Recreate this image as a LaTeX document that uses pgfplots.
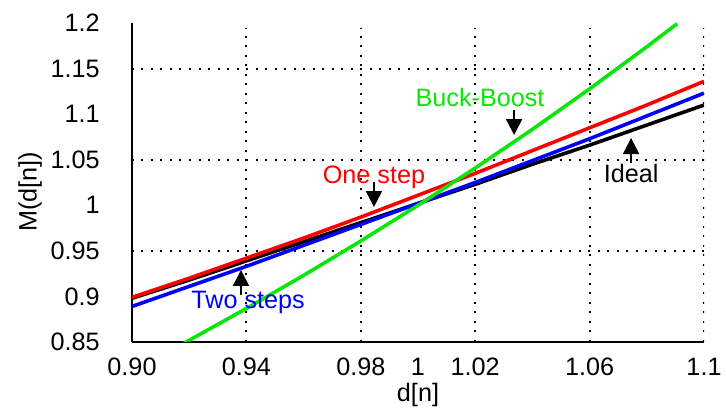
\documentclass[border=0pt]{standalone}
\usepackage{pgfplots}
\pgfplotsset{compat=1.18}
\usepackage{fontspec}
\setmainfont{Liberation Sans}
\usetikzlibrary{arrows.meta}
\definecolor{bbgreen}{RGB}{10,230,10}
\newcommand{\bigf}{\fontsize{12.6}{15}\selectfont}
\begin{document}
\begin{tikzpicture}[font=\bigf]
\begin{axis}[scale only axis, width=286pt, height=159.5pt,
  xmin=0.9, xmax=1.1, ymin=0.85, ymax=1.2,
  axis x line*=bottom, axis y line*=left,
  axis line style={line width=0.6pt, -},
  xtick={0.90,0.92,0.94,0.96,0.98,1.00,1.02,1.04,1.06,1.08,1.10},
  xticklabels={{\bigf 0.90},,{\bigf 0.94},,{\bigf 0.98},{\bigf 1},{\bigf 1.02},,{\bigf 1.06},,{\bigf 1.1}},
  ytick={0.85,0.9,0.95,1,1.05,1.1,1.15,1.2},
  yticklabels={{\bigf 0.85},{\bigf 0.9},{\bigf 0.95},{\bigf 1},{\bigf 1.05},{\bigf 1.1},{\bigf 1.15},{\bigf 1.2}},
  major tick length=0pt,
  tick style={draw=none},
  /pgf/number format/assume math mode=true,
  yticklabel style={anchor=east, inner sep=0pt, xshift=-16pt},
  xticklabel style={anchor=north, inner sep=0pt, yshift=-8pt},
  xlabel={\bigf d[n]}, ylabel={\bigf M(d[n])},
  xlabel style={at={(axis description cs:0.5,-0.166)},anchor=center},
  ylabel style={at={(axis description cs:-0.178,0.47)},anchor=center},
  clip=true,
]
% grid
\foreach \xv in {0.94,0.98,1.02,1.06,1.1}{
  \edef\temp{\noexpand\draw[black, line width=1pt, dash pattern=on 1pt off 3.75pt] (axis cs:\xv,0.85) -- (axis cs:\xv,1.1945);}
  \temp
}
\foreach \yv in {0.95,1.05,1.15}{
  \edef\temp{\noexpand\draw[black, line width=1pt, dash pattern=on 1pt off 3.75pt] (axis cs:0.9,\yv) -- (axis cs:1.1,\yv);}
  \temp
}
% Ideal
\addplot[black, line width=1.8pt] coordinates {
 (0.90,0.898) (0.92,0.918) (0.94,0.939) (0.96,0.960) (0.98,0.981) (1.00,1.002)
 (1.02,1.023) (1.04,1.045) (1.06,1.066) (1.08,1.088) (1.10,1.110)};
% Two steps
\addplot[blue, line width=1.8pt] coordinates {
 (0.90,0.889) (0.92,0.911) (0.94,0.933) (0.96,0.956) (0.98,0.979) (1.00,1.002)
 (1.02,1.025) (1.04,1.049) (1.06,1.073) (1.08,1.098) (1.10,1.123)};
% One step
\addplot[red, line width=1.8pt] coordinates {
 (0.90,0.899) (0.92,0.920) (0.94,0.942) (0.96,0.964) (0.98,0.987) (1.00,1.011)
 (1.02,1.035) (1.04,1.060) (1.06,1.085) (1.08,1.110) (1.10,1.136)};
% Buck-Boost
\addplot[bbgreen, line width=1.8pt] coordinates {
 (0.918,0.8484) (0.92,0.8519) (0.94,0.8868) (0.96,0.9231) (0.98,0.9608) (1.00,1.0000)
 (1.02,1.0408) (1.04,1.0833) (1.06,1.1277) (1.08,1.1739) (1.0906,1.1992)};
% annotations
\node[bbgreen, font=\bigf] at (axis cs:1.0217,1.1183) {Buck-Boost};
\draw[black, line width=1pt, -{Triangle[length=8pt,width=8pt]}] (axis cs:1.0336,1.1045) -- (axis cs:1.0336,1.0771);
\node[black, font=\bigf] at (axis cs:1.0745,1.0354) {Ideal};
\draw[black, line width=1pt, -{Triangle[length=8pt,width=8pt]}] (axis cs:1.0745,1.0464) -- (axis cs:1.0745,1.0738);
\node[red, font=\bigf] at (axis cs:0.9846,1.031) {One step};
\draw[black, line width=1pt, -{Triangle[length=8pt,width=8pt]}] (axis cs:0.9846,1.0255) -- (axis cs:0.9846,0.9981);
\node[blue, font=\bigf] at (axis cs:0.9406,0.8939) {Two steps};
\draw[black, line width=1pt, -{Triangle[length=8pt,width=8pt]}] (axis cs:0.9381,0.9016) -- (axis cs:0.9381,0.929);
% ticks (outside)
\foreach \yv in {0.85,0.9,0.95,1,1.05,1.1,1.15,1.2}{
  \edef\temp{\noexpand\draw[black, line width=0.6pt] (axis cs:0.9,\yv) -- ++(-10.5pt,0);}
  \temp
}
\foreach \xv in {0.90,0.92,0.94,0.96,0.98,1.00,1.02,1.04,1.06,1.08,1.10}{
  \edef\temp{\noexpand\draw[black, line width=0.6pt] (axis cs:\xv,0.85) -- ++(0,-3pt);}
  \temp
}
\end{axis}
\pgfresetboundingbox
\path (-66pt,-34pt) rectangle (297pt,171pt);
\end{tikzpicture}
\end{document}
